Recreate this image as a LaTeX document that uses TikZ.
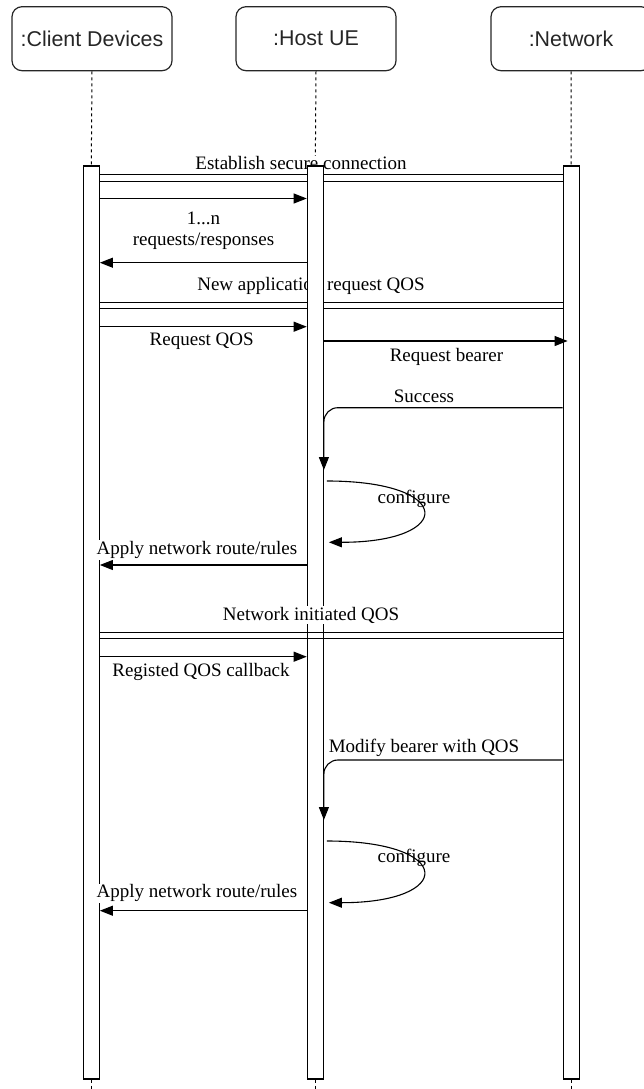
\documentclass[tikz,border=0pt]{standalone}
\usepackage{fontspec}
\setmainfont{Liberation Serif}
\newfontfamily\hdrfont{Liberation Sans}
\usetikzlibrary{arrows.meta,calc,backgrounds}

\begin{document}
\begin{tikzpicture}[x=1pt,y=-1pt,
  head/.style={draw=black!85, rounded corners=10pt, line width=1.2pt,
    minimum width=160pt, minimum height=64pt, inner sep=0pt,
    font=\hdrfont\fontsize{21.4}{25}\selectfont, text=black!85},
  bar/.style={draw, fill=white, line width=1.2pt, minimum width=16pt,
    minimum height=913pt, inner sep=0pt},
  life/.style={line width=1pt, dash pattern=on 3pt off 3pt},
  msg/.style={line width=1.1pt, -{Triangle[length=13pt,width=10pt]}},
  lbl/.style={font=\fontsize{19}{21}\selectfont, inner sep=1pt},
  wlbl/.style={lbl, fill=white},
  frag/.style={line width=1pt},
]
\useasboundingbox (0,0) rectangle (644,1089);

% participants
\node[head] (client) at (92,38.7)  {:Client Devices};
\node[head] (host)   at (316,38.7) {:Host UE};
\node[head] (net)    at (571,38.7) {:Network};

% activation bars
\node[bar] (cbar) at (91.3,622.5)  {};
\node[bar] (hbar) at (315.3,622.5) {};
\node[bar] (nbar) at (571.2,622.5) {};

\begin{pgfonlayer}{background}
  % lifelines
  \draw[life] (client.south) -- (cbar.north);
  \draw[life] (host.south) -- (hbar.north);
  \draw[life] (net.south) -- (nbar.north);
  \coordinate (cend) at (cbar.south |- 0,1089);
  \coordinate (hend) at (hbar.south |- 0,1089);
  \coordinate (nend) at (nbar.south |- 0,1089);
  \draw[life] (cbar.south) -- (cend);
  \draw[life] (hbar.south) -- (hend);
  \draw[life] (nbar.south) -- (nend);

  % establish secure connection
  \node[wlbl] (l1) at (301,163.3) {Establish secure connection};
  \draw[frag] (cbar.east |- 0,174) -- (nbar.west |- 0,174);
  \draw[frag] (cbar.east |- 0,181) -- (nbar.west |- 0,181);

  % new application request
  \node[wlbl] (l4) at (311,286) {New application request QOS};
  \draw[frag] (cbar.east |- 0,302) -- (nbar.west |- 0,302);
  \draw[frag] (cbar.east |- 0,308.5) -- (nbar.west |- 0,308.5);
\end{pgfonlayer}

% requests / responses
\draw[msg] (cbar.east |- 0,198.5) -- (hbar.west |- 0,198.5);
\node[lbl, align=center] (l3) at (203.5,230.5) {1...n\\requests/responses};
\draw[msg] (hbar.west |- 0,262.7) -- (cbar.east |- 0,262.7);

% request QOS
\draw[msg] (cbar.east |- 0,326.7) -- (hbar.west |- 0,326.7);
\node[lbl] (l5) at (201.7,341.7) {Request QOS};

% request bearer
\coordinate (rbEnd) at ($(nbar.west |- 0,341)+(5,0)$);
\draw[msg] (hbar.east |- 0,341) -- (rbEnd);
\node[lbl] (l6) at (446.5,356.7) {Request bearer};

% success
\node[lbl] (l7) at (424,396) {Success};
\draw[msg, rounded corners=14pt] (nbar.west |- 0,407.7) -| (hbar.east |- 0,470);

% configure
\node[lbl] (l8) at (414,499.3) {configure};
\coordinate (cf1s) at ($(hbar.east |- 0,481)+(3,0)$);
\coordinate (cf1e) at ($(hbar.east |- 0,542.3)+(5,0)$);
\draw[msg] (cf1s) .. controls (455,481) and (455,542.3) .. (cf1e);

% apply rules
\node[wlbl] (l9) at (197,550) {Apply network route/rules};
\draw[msg] (hbar.west |- 0,565) -- (cbar.east |- 0,565);

% network initiated QOS
\node[wlbl] (l10) at (311,615) {Network initiated QOS};
\draw[frag] (cbar.east |- 0,632) -- (nbar.west |- 0,632);
\draw[frag] (cbar.east |- 0,638.5) -- (nbar.west |- 0,638.5);

% registered callback
\draw[msg] (cbar.east |- 0,656.7) -- (hbar.west |- 0,656.7);
\node[lbl] (l11) at (201,671.7) {Registed QOS callback};

% modify bearer
\node[lbl] (l12) at (424,748.3) {Modify bearer with QOS};
\draw[msg, rounded corners=14pt] (nbar.west |- 0,760) -| (hbar.east |- 0,820);

% configure
\node[lbl] (l13) at (414,858.3) {configure};
\coordinate (cf2s) at ($(hbar.east |- 0,841)+(3,0)$);
\coordinate (cf2e) at ($(hbar.east |- 0,902.7)+(5,0)$);
\draw[msg] (cf2s) .. controls (455,841) and (455,902.7) .. (cf2e);

% apply rules
\node[wlbl] (l14) at (197,893.3) {Apply network route/rules};
\draw[msg] (hbar.west |- 0,910.7) -- (cbar.east |- 0,910.7);
\end{tikzpicture}
\end{document}
